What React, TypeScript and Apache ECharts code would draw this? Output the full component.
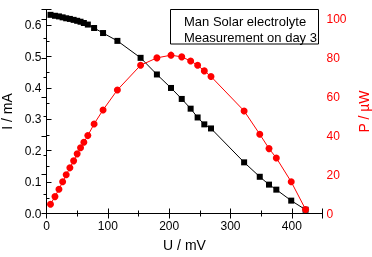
import React, { useEffect, useRef } from "react";
import * as echarts from "echarts";

const voltage = [6.5, 13.8, 20.3, 26.3, 32.1, 38.1, 44.2, 50, 55.5, 60.9, 67.4, 77.6, 92.2, 115.6, 153.4, 180, 203, 220.5, 235, 246.4, 257.3, 268.2, 322.2, 347.7, 362.8, 374.7, 399, 422.4];
const current = [0.633, 0.630, 0.628, 0.625, 0.622, 0.620, 0.617, 0.614, 0.611, 0.607, 0.602, 0.591, 0.575, 0.550, 0.496, 0.443, 0.400, 0.365, 0.334, 0.306, 0.284, 0.271, 0.163, 0.117, 0.092, 0.076, 0.041, 0.012];
const power = [4.8, 8.7, 12.5, 16.3, 19.9, 23.5, 27.1, 30.7, 33.8, 36.7, 40.1, 46.1, 53.3, 63.6, 76.3, 80.1, 81.5, 80.6, 78.5, 76.3, 73.4, 70.5, 52.8, 40.8, 33.4, 28.6, 16.3, 2.1];
const legendLines = ["Man Solar electrolyte", "Measurement on day 3"];
const xName = "U / mV";
const yLeftName = "I / mA";
const yRightName = "P / µW";

const FONT = "'Liberation Sans', Arial, sans-serif";

export default function App() {
  const ref = useRef<HTMLDivElement>(null);
  useEffect(() => {
    const chart = echarts.init(ref.current!, null, { renderer: "svg" });
    const tickCommon = {
      axisLine: { show: true, lineStyle: { color: "#000", width: 1 } },
      axisTick: { show: true, inside: true, length: 5, lineStyle: { color: "#000" } },
      minorTick: { show: true, splitNumber: 2, length: 3, lineStyle: { color: "#000" } },
      splitLine: { show: false },
      minorSplitLine: { show: false },
    };
    chart.setOption({
      animation: false,
      grid: { left: 46.5, right: 49.5, top: 9.5, bottom: 43.5, containLabel: false, outerBoundsMode: "none" },
      xAxis: [
        {
          type: "value", min: 0, max: 450, interval: 100, position: "bottom",
          ...tickCommon,
          axisLabel: { color: "#000", fontSize: 12, fontFamily: FONT, margin: 6, showMaxLabel: false },
          name: xName, nameLocation: "middle", nameGap: 24,
          nameTextStyle: { color: "#000", fontSize: 14, fontFamily: FONT },
        },
        {
          type: "value", min: 0, max: 450, interval: 100, position: "top",
          ...tickCommon,
          axisLabel: { show: false },
        },
      ],
      yAxis: [
        {
          type: "value", min: 0, max: 0.65, interval: 0.1, position: "left",
          ...tickCommon,
          axisLabel: {
            color: "#000", fontSize: 12, fontFamily: FONT, margin: 5, showMaxLabel: false,
            formatter: (v: number) => (v > 0.61 ? "" : v.toFixed(1)),
          },
          name: yLeftName, nameLocation: "middle", nameGap: 29, nameRotate: 90,
          nameTextStyle: { color: "#000", fontSize: 14, fontFamily: FONT },
        },
        {
          type: "value", min: 0, max: 105, interval: 20, position: "right",
          ...tickCommon,
          axisLabel: {
            color: "#ff0000", fontSize: 12, fontFamily: FONT, margin: 4, showMaxLabel: false,
            formatter: (v: number) => (v > 101 ? "" : String(v)),
          },
          name: yRightName, nameLocation: "middle", nameGap: 28, nameRotate: 90,
          nameTextStyle: { color: "#ff0000", fontSize: 14, fontFamily: FONT },
        },
      ],
      series: [
        {
          type: "line", xAxisIndex: 0, yAxisIndex: 0,
          data: voltage.map((u, i) => [u, current[i]]),
          symbol: "rect", symbolSize: 6,
          lineStyle: { color: "#000", width: 1 },
          itemStyle: { color: "#000" },
          z: 2,
        },
        {
          type: "line", xAxisIndex: 0, yAxisIndex: 1,
          data: voltage.map((u, i) => [u, power[i]]),
          symbol: "circle", symbolSize: 7,
          lineStyle: { color: "#ff0000", width: 1 },
          itemStyle: { color: "#ff0000" },
          z: 3,
        },
      ],
      graphic: [
        {
          type: "rect", shape: { x: 170.5, y: 9.5, width: 148, height: 34.5 },
          style: { fill: "#fff", stroke: "#000", lineWidth: 1 }, z: 10,
        },
        {
          type: "text", x: 184, y: 21.7, z: 11,
          style: { text: legendLines[0], fill: "#000", font: `13px ${FONT}`, verticalAlign: "middle" },
        },
        {
          type: "text", x: 184, y: 37.7, z: 11,
          style: { text: legendLines[1], fill: "#000", font: `13px ${FONT}`, verticalAlign: "middle" },
        },
      ],
    });
    return () => chart.dispose();
  }, []);
  return <div ref={ref} style={{ position: "fixed", left: 0, top: 0, width: 372, height: 257 }} />;
}
